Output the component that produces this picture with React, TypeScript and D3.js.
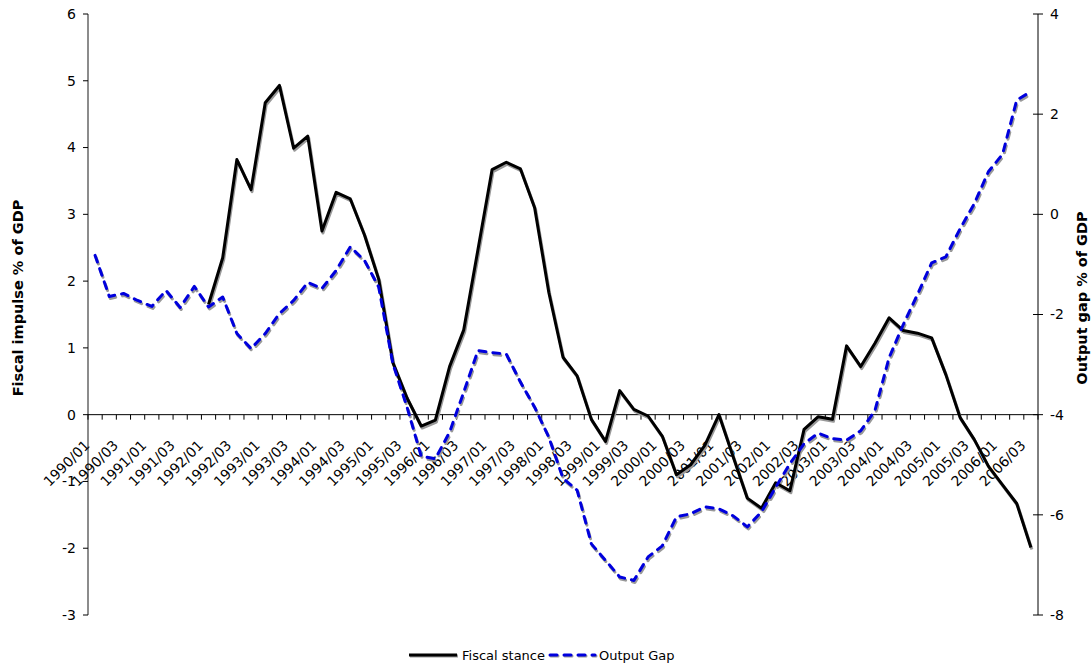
import React from "react";
import * as d3 from "d3";

// Quarterly categories, 1990 Q1 through 2006 Q3
const years = d3.range(1990, 2007);
const quarters = ["01", "02", "03", "04"];
const categories: string[] = years.flatMap((y) => quarters.map((q) => `${y}/${q}`)).slice(0, 67);

// Fiscal stance (% of GDP), left axis; series starts in 1992 Q1
const fiscalStance: (number | null)[] = [
  null, null, null, null, null, null, null, null,
  1.65, 2.35, 3.82, 3.37, 4.67, 4.93, 3.99, 4.17,
  2.75, 3.33, 3.23, 2.69, 2.03, 0.78, 0.25, -0.17,
  -0.08, 0.72, 1.27, 2.47, 3.67, 3.78, 3.68, 3.1,
  1.83, 0.86, 0.58, -0.07, -0.4, 0.36, 0.08, -0.02,
  -0.32, -0.9, -0.75, -0.46, 0.0, -0.63, -1.25, -1.4,
  -1.02, -1.14, -0.22, -0.03, -0.07, 1.03, 0.72, 1.07,
  1.45, 1.26, 1.22, 1.15, 0.6, -0.04, -0.37, -0.77,
  -1.05, -1.33, -1.99,
];

// Output gap (% of GDP), right axis
const outputGap: number[] = [
  -0.82, -1.64, -1.58, -1.72, -1.84, -1.52, -1.86, -1.44,
  -1.85, -1.65, -2.38, -2.68, -2.38, -1.98, -1.72, -1.36,
  -1.48, -1.12, -0.65, -0.92, -1.45, -2.98, -3.85, -4.83,
  -4.88, -4.35, -3.55, -2.72, -2.76, -2.79, -3.35, -3.85,
  -4.45, -5.27, -5.51, -6.58, -6.91, -7.24, -7.31, -6.84,
  -6.62, -6.04, -5.98, -5.84, -5.88, -6.02, -6.24, -5.94,
  -5.45, -4.98, -4.58, -4.37, -4.48, -4.51, -4.32, -3.92,
  -2.86, -2.2, -1.6, -0.97, -0.85, -0.29, 0.21, 0.85,
  1.2, 2.28, 2.45,
];

const leftTicks = [-3, -2, -1, 0, 1, 2, 3, 4, 5, 6];
const rightTicks = [-8, -6, -4, -2, 0, 2, 4];

const W = 1091;
const H = 665;
const left = 88;
const right = 1038;
const top = 14;
const bottom = 615;
const font = "Verdana, 'DejaVu Sans', sans-serif";

export default function App() {
  const x = d3.scaleBand<string>().domain(categories).range([left, right]);
  const bw = x.bandwidth();
  const cx = (i: number) => (x(categories[i]) as number) + bw / 2;
  const yL = d3.scaleLinear().domain([-3, 6]).range([bottom, top]);
  const yR = d3.scaleLinear().domain([-8, 4]).range([bottom, top]);
  const zeroY = yL(0);

  const fiscalLine = d3
    .line<number | null>()
    .defined((d) => d != null)
    .x((_, i) => cx(i))
    .y((d) => yL(d as number));
  const gapLine = d3
    .line<number>()
    .x((_, i) => cx(i))
    .y((d) => yR(d));

  const fPath = fiscalLine(fiscalStance) || "";
  const gPath = gapLine(outputGap) || "";

  const blue = "#0000DD";
  const dash = "7,7";
  const titleY = 298;

  return (
    <div style={{ position: "absolute", left: 0, top: 0 }}>
      <svg width={W} height={H} style={{ display: "block", background: "#fff" }} fontFamily={font}>
        {/* left axis */}
        <line x1={left} x2={left} y1={top} y2={bottom} stroke="#666" strokeWidth={1.5} />
        {leftTicks.map((t) => (
          <g key={`l${t}`}>
            <line x1={left - 5} x2={left} y1={yL(t)} y2={yL(t)} stroke="#000" />
            <text x={left - 12} y={yL(t)} dy="0.35em" textAnchor="end" fontSize={14}>
              {t}
            </text>
          </g>
        ))}

        {/* right axis */}
        <line x1={right} x2={right} y1={top} y2={bottom} stroke="#000" />
        {rightTicks.map((t) => (
          <g key={`r${t}`}>
            <line x1={right - 5} x2={right + 5} y1={yR(t)} y2={yR(t)} stroke="#000" />
            <text x={right + 12} y={yR(t)} dy="0.35em" textAnchor="start" fontSize={14}>
              {t}
            </text>
          </g>
        ))}

        {/* category axis on the zero line */}
        <line x1={left} x2={right} y1={zeroY} y2={zeroY} stroke="#000" />
        {categories.map((c) => (
          <line key={`t${c}`} x1={x(c) as number} x2={x(c) as number} y1={zeroY} y2={zeroY + 5} stroke="#000" />
        ))}
        <line x1={right} x2={right} y1={zeroY} y2={zeroY + 5} stroke="#000" />
        {categories.map((c, i) =>
          i % 2 === 0 ? (
            <text
              key={`c${c}`}
              transform={`translate(${cx(i) - 8},${zeroY + 28}) rotate(-45)`}
              textAnchor="end"
              dominantBaseline="central"
              fontSize={14}
            >
              {c}
            </text>
          ) : null
        )}

        {/* axis titles */}
        <text
          transform={`translate(23,${titleY}) rotate(-90)`}
          textAnchor="middle"
          fontSize={14.5}
          fontWeight="bold"
        >
          Fiscal impulse % of GDP
        </text>
        <text
          transform={`translate(1087,${titleY}) rotate(-90)`}
          textAnchor="middle"
          fontSize={14.5}
          fontWeight="bold"
        >
          Output gap % of GDP
        </text>

        {/* series shadows */}
        <path d={fPath} transform="translate(1,2)" fill="none" stroke="#999" strokeWidth={3} strokeLinejoin="round" />
        <path
          d={gPath}
          transform="translate(1,2)"
          fill="none"
          stroke="#999"
          strokeWidth={3}
          strokeDasharray={dash}
          strokeLinecap="round"
          strokeLinejoin="round"
        />
        {/* series */}
        <path d={fPath} fill="none" stroke="#000" strokeWidth={3} strokeLinejoin="round" />
        <path
          d={gPath}
          fill="none"
          stroke={blue}
          strokeWidth={3}
          strokeDasharray={dash}
          strokeLinecap="round"
          strokeLinejoin="round"
        />

        {/* legend */}
        <g transform="translate(0,655)">
          <line x1={410} x2={458} y1={1} y2={1} stroke="#999" strokeWidth={3} />
          <line x1={409} x2={457} y1={0} y2={0} stroke="#000" strokeWidth={3} />
          <text x={462} y={0} dy="0.35em" fontSize={13}>
            Fiscal stance
          </text>
          <line x1={551} x2={596} y1={1} y2={1} stroke="#999" strokeWidth={3} strokeDasharray={dash} strokeLinecap="round" />
          <line x1={550} x2={595} y1={0} y2={0} stroke={blue} strokeWidth={3} strokeDasharray={dash} strokeLinecap="round" />
          <text x={599} y={0} dy="0.35em" fontSize={13}>
            Output Gap
          </text>
        </g>
      </svg>
    </div>
  );
}
